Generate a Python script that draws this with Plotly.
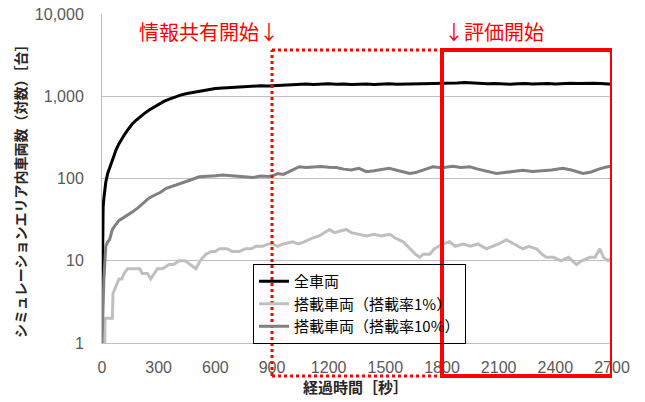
import plotly.graph_objects as go

# ---- data ----
t_all = [0, 3, 6, 10, 15, 20, 30, 40, 50, 60, 75, 90, 105, 120, 140, 160, 180, 200, 225, 250,
         275, 300, 330, 360, 390, 420, 450, 480, 510, 540, 570, 600, 640, 680, 720, 760, 800,
         840, 880, 920, 960, 1000, 1040, 1080, 1120, 1160, 1200, 1240, 1280, 1320, 1360, 1400,
         1440, 1480, 1520, 1560, 1600, 1640, 1680, 1720, 1760, 1800, 1840, 1880, 1920, 1960,
         2000, 2040, 2080, 2120, 2160, 2200, 2240, 2280, 2320, 2360, 2400, 2440, 2480, 2520,
         2560, 2600, 2640, 2680, 2700]
v_all = [2, 25, 45, 58, 75, 90, 115, 135, 160, 185, 225, 265, 305, 345, 400, 460, 510, 560, 620,
         680, 740, 800, 870, 930, 990, 1040, 1080, 1110, 1150, 1180, 1210, 1240, 1260, 1280, 1300,
         1310, 1330, 1340, 1330, 1350, 1370, 1390, 1400, 1410, 1390, 1400, 1420, 1400, 1410, 1390,
         1400, 1410, 1390, 1400, 1420, 1400, 1410, 1430, 1420, 1440, 1430, 1440, 1430, 1450, 1470,
         1450, 1440, 1420, 1430, 1420, 1400, 1420, 1430, 1410, 1420, 1430, 1410, 1430, 1440, 1430,
         1450, 1440, 1430, 1410, 1400]

t_1pct = [0, 15, 16, 55, 58, 75, 90, 105, 117, 135, 160, 180, 200, 213, 240, 258, 275, 293, 320,
          355, 380, 408, 440, 470, 497, 520, 550, 580, 600, 621, 660, 690, 727, 760, 790, 815, 850,
          880, 903, 930, 960, 1009, 1040, 1070, 1116, 1150, 1180, 1204, 1230, 1260, 1293, 1320,
          1360, 1400, 1440, 1480, 1523, 1550, 1594, 1630, 1660, 1682, 1700, 1735, 1760, 1806, 1840,
          1870, 1912, 1950, 1990, 2035, 2070, 2100, 2141, 2180, 2228, 2260, 2300, 2330, 2353, 2390,
          2430, 2470, 2512, 2540, 2583, 2610, 2636, 2655, 2680, 2700]
v_1pct = [1, 1, 2, 2, 4, 5, 6, 6, 7, 8, 8, 8, 8, 7, 7, 6, 7, 8, 8,
          9, 9, 10, 10, 9, 8, 10, 12, 13, 13, 14, 14, 13, 13, 14, 14, 15, 15,
          16, 16, 15, 16, 17, 16, 17, 19, 20, 22, 24, 22, 23, 24, 22,
          21, 20, 21, 20, 21, 19, 17, 14, 12, 11, 12, 12, 14, 16, 17,
          15, 16, 15, 16, 14, 15, 16, 18, 16, 14, 15, 14, 12, 11, 11,
          10, 11, 9, 10, 11, 11, 14, 11, 10, 11]

t_10pct = [0, 5, 10, 20, 30, 40, 55, 70, 90, 110, 130, 160, 190, 220, 250, 280, 310, 340, 370,
           400, 440, 480, 515, 550, 600, 640, 680, 720, 760, 800, 840, 880, 903, 930, 960, 1000,
           1045, 1080, 1120, 1160, 1200, 1240, 1280, 1320, 1360, 1400, 1440, 1480, 1520, 1560,
           1600, 1629, 1660, 1700, 1751, 1800, 1857, 1900, 1947, 1990, 2040, 2088, 2130, 2180,
           2228, 2280, 2330, 2380, 2440, 2490, 2546, 2590, 2630, 2670, 2700]
v_10pct = [1, 3, 6, 15, 17, 18, 24, 27, 31, 33, 35, 39, 44, 50, 58, 63, 68, 76, 80,
           85, 91, 98, 105, 107, 108, 110, 108, 107, 105, 103, 107, 106, 108, 115, 112, 125,
           139, 136, 138, 140, 137, 136, 130, 127, 133, 121, 124, 128, 133, 126,
           120, 115, 118, 128, 139, 135, 141, 136, 139, 130, 121, 115, 118, 122,
           126, 122, 124, 127, 133, 126, 115, 120, 130, 138, 141]

names = ["全車両", "搭載車両（搭載率1%）", "搭載車両（搭載率10%）"]
colors = ["#000000", "#bfbfbf", "#808080"]

x_ticks = [0, 300, 600, 900, 1200, 1500, 1800, 2100, 2400, 2700]
y_ticks = [1, 10, 100, 1000, 10000]
y_ticktext = ["1", "10", "100", "1,000", "10,000"]

share_start = 900
eval_start = 1800
t_end = 2700

FONT = "Liberation Sans, Noto Sans CJK JP, sans-serif"
CJK = "Noto Sans CJK JP, sans-serif"

# plot area in page pixels: left 102, right 612, top 14, bottom 343
PL, PW, PB, PH = 102, 510, 343, 329


def px(xp):
    return (xp - PL) / PW


def py(yp):
    return (PB - yp) / PH


fig = go.Figure()
for tx, vy, nm, c in [(t_all, v_all, names[0], colors[0]),
                      (t_1pct, v_1pct, names[1], colors[1]),
                      (t_10pct, v_10pct, names[2], colors[2])]:
    fig.add_trace(go.Scatter(x=tx, y=vy, name=nm, mode="lines",
                             line=dict(color=c, width=3)))

ybot = py(376)
ytop = py(50)
# dotted red region (info sharing)
fig.add_shape(type="line", xref="x", yref="paper", x0=share_start, x1=share_start, y0=ybot, y1=ytop,
              line=dict(color="#ff0000", width=3, dash="dot"))
fig.add_shape(type="line", xref="x", yref="paper", x0=share_start, x1=eval_start, y0=ytop, y1=ytop,
              line=dict(color="#ff0000", width=3, dash="dot"))
fig.add_shape(type="line", xref="x", yref="paper", x0=share_start, x1=eval_start, y0=ybot, y1=ybot,
              line=dict(color="#ff0000", width=3, dash="dot"))
# solid red box (evaluation)
fig.add_shape(type="rect", xref="x", yref="paper", x0=eval_start, x1=t_end, y0=ybot, y1=ytop,
              line=dict(color="#ff0000", width=4))

fig.add_annotation(text="情報共有開始↓", xref="paper", yref="paper", x=px(209), y=py(32),
                   xanchor="center", yanchor="middle", showarrow=False,
                   font=dict(family=CJK, size=20, color="#ff0000"))
fig.add_annotation(text="↓評価開始", xref="paper", yref="paper", x=px(494), y=py(32),
                   xanchor="center", yanchor="middle", showarrow=False,
                   font=dict(family=CJK, size=20, color="#ff0000"))

fig.add_annotation(text="<b>シミュレーションエリア内車両数（対数）［台］</b>", xref="paper", yref="paper",
                   x=px(20), y=py(188), xanchor="center", yanchor="middle", textangle=-90,
                   showarrow=False, font=dict(family=CJK, size=14, color="#262626"))
fig.add_annotation(text="<b>経過時間［秒］</b>", xref="paper", yref="paper",
                   x=px(355), y=py(386), xanchor="center", yanchor="middle", showarrow=False,
                   font=dict(family=CJK, size=15, color="#262626"))

fig.update_layout(
    width=645, height=402,
    margin=dict(l=102, r=33, t=14, b=59, autoexpand=False),
    paper_bgcolor="white", plot_bgcolor="white",
    font=dict(family=FONT, size=16, color="#595959"),
    showlegend=True,
    legend=dict(x=px(253), y=py(264), xanchor="left", yanchor="top",
                bgcolor="rgba(255,255,255,0)", bordercolor="#000000", borderwidth=1,
                font=dict(family=CJK, size=15, color="#000000"), tracegroupgap=0),
    xaxis=dict(range=[0, t_end], tickvals=x_ticks, showgrid=False, zeroline=False,
               showline=True, linecolor="#bfbfbf", linewidth=1, ticks="",
               ticklabelstandoff=10, automargin=False),
    yaxis=dict(type="log", range=[0, 4], tickvals=y_ticks, ticktext=y_ticktext,
               showgrid=True, gridcolor="#bfbfbf", gridwidth=1, zeroline=False,
               showline=True, linecolor="#bfbfbf", linewidth=1, ticks="",
               ticklabelstandoff=14, automargin=False),
)

fig.write_html("out.html", config={"displayModeBar": False},
               post_script="document.body.style.margin='0';")
